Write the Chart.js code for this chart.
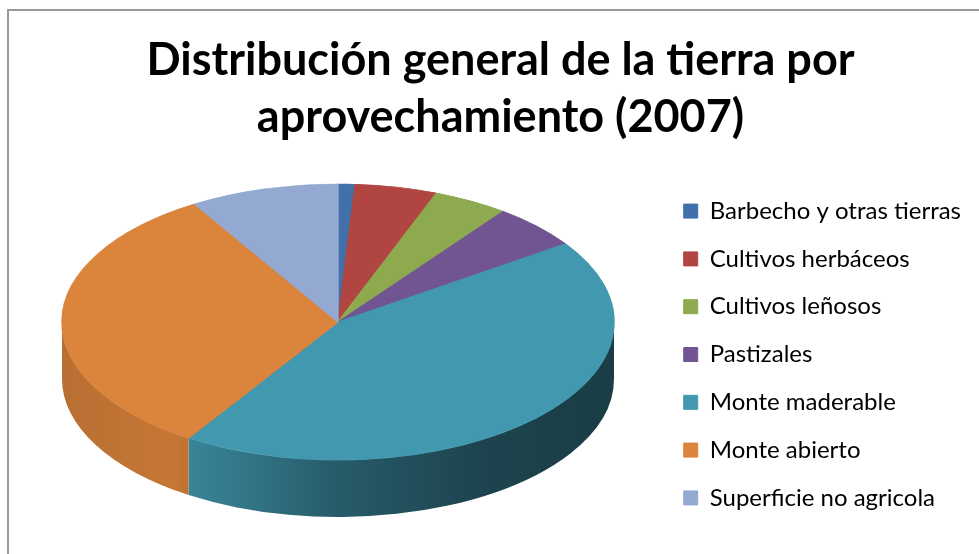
<!DOCTYPE html>
<html>
<head>
<meta charset="utf-8">
<script src="https://cdn.jsdelivr.net/npm/chart.js@4.4.0/dist/chart.umd.min.js"></script>
<style>
  html, body { margin: 0; padding: 0; background: #fff; }
  #wrap { position: relative; width: 979px; height: 554px; overflow: hidden; }
  #frame { position: absolute; left: 7px; top: 9px; width: 1000px; height: 600px;
           border-left: 2px solid #9a9a9a; border-top: 2px solid #9a9a9a; box-sizing: border-box; }
  canvas { position: absolute; left: 0; top: 0; }
</style>
</head>
<body>
<div id="wrap">
  <div id="frame"></div>
  <canvas id="pie" width="979" height="554"></canvas>
</div>
<script>
const categories = [
  "Barbecho y otras tierras",
  "Cultivos herbáceos",
  "Cultivos leñosos",
  "Pastizales",
  "Monte maderable",
  "Monte abierto",
  "Superficie no agricola",
];
const shares = [1.0, 4.8, 4.4, 5.2, 43.7, 32.2, 8.7];
const sliceColors = ["#4170AA", "#B04541", "#8DAA4F", "#715592", "#4198AF", "#DB843C", "#93A9D1"];
const titleLines = ["Distribución general de la tierra por", "aprovechamiento (2007)"];

function shade(hex, f) {
  const n = parseInt(hex.slice(1), 16);
  const r = Math.round(((n >> 16) & 255) * f);
  const g = Math.round(((n >> 8) & 255) * f);
  const b = Math.round((n & 255) * f);
  return `rgb(${r},${g},${b})`;
}

// fake 3d: squash the pie into an ellipse and add a side wall under the front half
const pie3d = {
  id: "pie3d",
  beforeDatasetsDraw(chart) {
    const ctx = chart.ctx;
    const meta = chart.getDatasetMeta(0);
    const first = meta.data[0];
    const cx = 338, cy = 322, rx = 276, ry = 138, depth = 57;

    meta.data.forEach((arc, i) => {
      const s = Math.max(arc.startAngle, 0);
      const e = Math.min(arc.endAngle, Math.PI);
      if (e <= s) return;
      const base = sliceColors[i];
      const grad = ctx.createLinearGradient(cx - rx, 0, cx + rx, 0);
      grad.addColorStop(0, shade(base, 0.84));
      grad.addColorStop(0.2, shade(base, 0.9));
      grad.addColorStop(0.5, shade(base, 0.6));
      grad.addColorStop(0.75, shade(base, 0.45));
      grad.addColorStop(1, shade(base, 0.4));
      ctx.beginPath();
      ctx.ellipse(cx, cy, rx, ry, 0, s, e);
      ctx.ellipse(cx, cy + depth, rx, ry, 0, e, s, true);
      ctx.closePath();
      ctx.fillStyle = grad;
      ctx.fill();
    });

    ctx.save();
    ctx.translate(cx, cy);
    ctx.scale(rx / first.outerRadius, ry / first.outerRadius);
    ctx.translate(-first.x, -first.y);
  },
  afterDatasetsDraw(chart) {
    chart.ctx.restore();
  },
};

new Chart(document.getElementById("pie"), {
  type: "pie",
  data: {
    labels: categories,
    datasets: [{
      data: shares,
      backgroundColor: sliceColors,
      borderColor: sliceColors,
      borderWidth: 1,
    }],
  },
  options: {
    responsive: false,
    animation: false,
    layout: { padding: { left: 30, right: 8, bottom: 0 } },
    plugins: {
      title: {
        display: true,
        text: titleLines,
        color: "#000",
        font: { family: "Lato", weight: "bold", size: 45, lineHeight: 1.27 },
        padding: { top: 32, bottom: 29 },
      },
      legend: {
        position: "right",
        align: "start",
        fullSize: false,
        labels: {
          color: "#000",
          boxWidth: 14,
          boxHeight: 14,
          padding: 23.8,
          font: { family: "Lato", size: 24 },
        },
      },
      tooltip: { enabled: false },
    },
  },
  plugins: [pie3d],
});
</script>
</body>
</html>
